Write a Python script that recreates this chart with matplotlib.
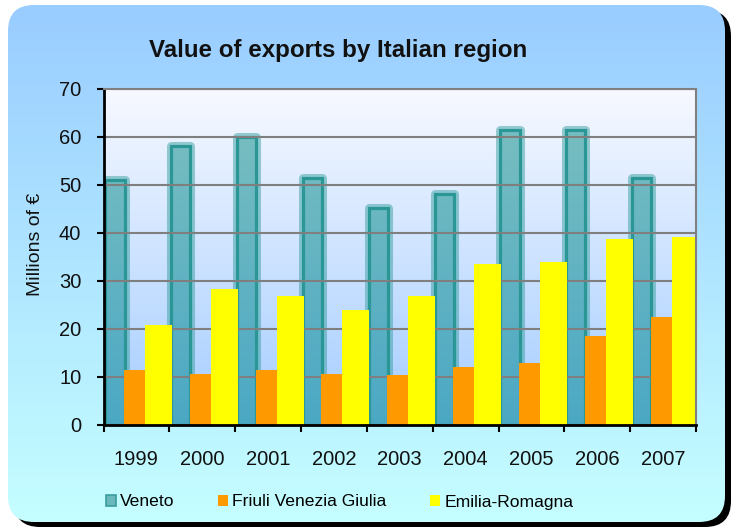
import numpy as np
import matplotlib; matplotlib.use("Agg")
import matplotlib.pyplot as plt
from matplotlib.patches import FancyBboxPatch, Patch
from matplotlib.colors import LinearSegmentedColormap

plt.rcParams["font.family"] = ["Liberation Sans", "DejaVu Sans"]

years = ["1999", "2000", "2001", "2002", "2003", "2004", "2005", "2006", "2007"]
veneto = [51.0, 58.2, 60.0, 51.5, 45.3, 48.2, 61.4, 61.4, 51.5]
friuli = [11.4, 10.6, 11.4, 10.6, 10.5, 12.1, 13.0, 18.5, 22.5]
emilia = [20.8, 28.4, 26.9, 24.0, 26.9, 33.5, 34.0, 38.7, 39.2]

W, H = 736, 530
fig = plt.figure(figsize=(W / 100, H / 100), dpi=100)

# rounded background box with shadow and vertical gradient
bg = fig.add_axes([0, 0, 1, 1]); bg.set_axis_off()
bg.set_xlim(0, W); bg.set_ylim(H, 0)
bg.add_patch(FancyBboxPatch((14, 10), 717, 517, boxstyle="round,pad=0,rounding_size=26",
                            fc="black", ec="none", zorder=1))
box = FancyBboxPatch((8, 5), 717, 517, boxstyle="round,pad=0,rounding_size=26", fc="none", ec="none")
bg.add_patch(box)
grad = np.linspace(0, 1, 256).reshape(-1, 1)
cm_bg = LinearSegmentedColormap.from_list("bg", ["#99ccff", "#c6ffff"])
im = bg.imshow(grad, extent=[0, W, H, 0], cmap=cm_bg, aspect="auto", zorder=2)
im.set_clip_path(box)
bg.set_xlim(0, W); bg.set_ylim(H, 0)

# plot area
ax = fig.add_axes([103.5 / W, 1 - 425 / H, 592.5 / W, 336 / H])
x = np.arange(len(years))
ax.set_xlim(-0.5, len(years) - 0.5); ax.set_ylim(0, 70)
cm_pa = LinearSegmentedColormap.from_list("pa", ["#f7f9ff", "#a4cdff"])
ax.imshow(grad, extent=[0, 1, 0, 1], transform=ax.transAxes, cmap=cm_pa, aspect="auto", zorder=0)

# Veneto: gradient bars with halo and dark border
cm_v = LinearSegmentedColormap.from_list("v", ["#7dc0c0", "#4ba8c4"])
vb = ax.bar(x - 0.325, veneto, width=0.29, color="none", ec="#3aa0a0", lw=6.5, alpha=0.5, zorder=1, joinstyle="round")
for r in vb:
    x0, w, h = r.get_x(), r.get_width(), r.get_height()
    gi = ax.imshow(grad, extent=[x0, x0 + w, 0, 70], cmap=cm_v, aspect="auto", zorder=1.1, vmin=0, vmax=1)
    clip = plt.Rectangle((x0, 0), w, h, transform=ax.transData, fc="none", ec="none")
    ax.add_patch(clip)
    gi.set_clip_path(clip)
ax.bar(x - 0.325, veneto, width=0.29, color="none", ec="#2b9696", lw=2.3, zorder=1.2)

ax.bar(x - 0.03, friuli, width=0.32, color="#ff9900", zorder=2)
ax.bar(x + 0.335, emilia, width=0.41, color="#ffff00", zorder=2.1)
ax.set_xlim(-0.5, len(years) - 0.5); ax.set_ylim(0, 70)

ax.set_axisbelow("line")
ax.yaxis.grid(True, color="#7f7f7f", lw=1.5)
ax.set_yticks(range(0, 71, 10))
ax.set_xticks(x); ax.set_xticklabels(years)
ax.set_xticks(np.arange(-0.5, len(years)), minor=True)
ax.tick_params(axis="x", which="major", length=0, pad=18, labelsize=14.5, colors="#111111")
ax.tick_params(axis="x", which="minor", length=5, width=1.5, direction="out")
ax.tick_params(axis="y", length=5, width=1.5, pad=11, labelsize=14.5, labelcolor="#111111")
for s in ["left", "bottom"]:
    ax.spines[s].set_color("black"); ax.spines[s].set_linewidth(2)
for s in ["top", "right"]:
    ax.spines[s].set_color("#808080"); ax.spines[s].set_linewidth(1.5)

fig.text(338 / W, 1 - 50 / H, "Value of exports by Italian region", ha="center", va="center",
         fontsize=17.4, fontweight="bold", color="#111111")
fig.text(36 / W, 1 - 244 / H, "Millions of €", rotation=90, ha="center", va="center",
         fontsize=14, color="#111111")

handles = [Patch(fc="#6ab8bb", ec="#3a9c9c", lw=1.2), Patch(fc="#ff9900"), Patch(fc="#ffff00")]
fig.legend(handles, ["Veneto", "Friuli Venezia Giulia", "Emilia-Romagna"], loc="center left",
           bbox_to_anchor=(106 / W, 1 - 502 / H), ncol=3, frameon=False, fontsize=12.6,
           handlelength=0.55, handleheight=0.55, handletextpad=0.25, columnspacing=2.5,
           borderpad=0, borderaxespad=0)

fig.savefig("out.png", dpi=100)
